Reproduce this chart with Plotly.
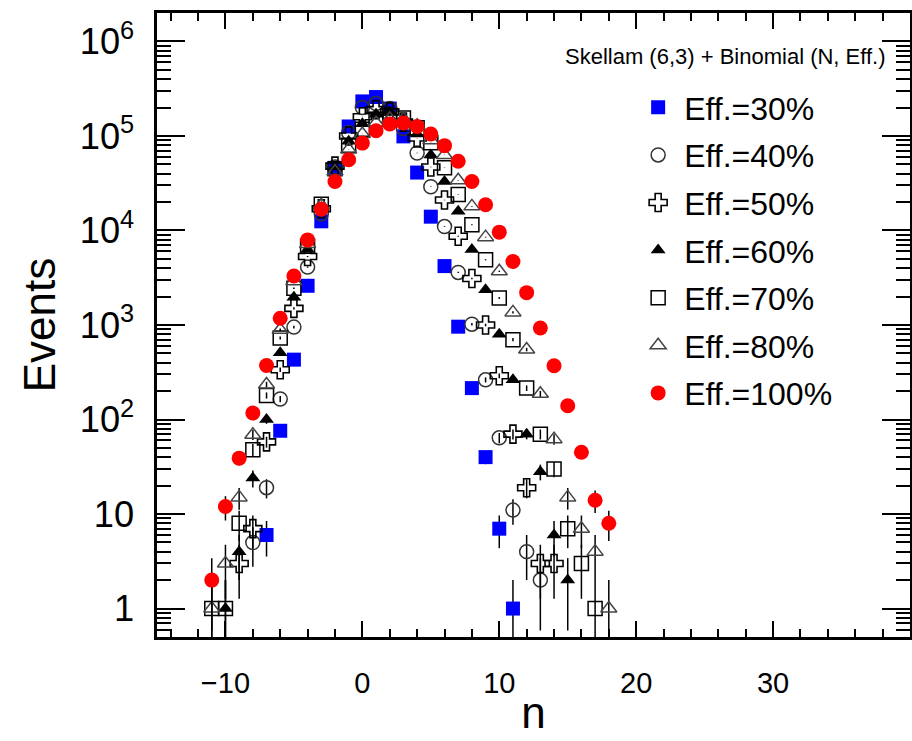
import numpy as np
import plotly.graph_objects as go

n_vals = list(range(-11, 19))

# Events per n (None = no point), n from -11 to 18
eff30 = [None, None, None, None, 6, 76, 430, 2600, 12500, 46000, 126000, 232000, 258000, 195000, 99000,
         41000, 14000, 4200, 960, 215, 40, 7, 1, None, None, None, None, None, None, None]
eff40 = [None, None, None, 5, 19, 165, 950, 4100, 15000, 47000, 108000, 200000, 220000, 195000, 120000,
         66000, 29000, 11000, 3600, 1020, 263, 64, 11, 4, 2, None, None, None, None, None]
eff50 = [None, None, 3, 7, 58, 336, 1500, 5300, 17000, 48000, 100000, 160000, 190000, 180000, 140000,
         95000, 47000, 21000, 8700, 3100, 1000, 290, 70, 19, 3, 3, None, None, None, None]
eff60 = [None, 1, 4, 24, 100, 510, 1970, 6300, 17500, 47000, 88000, 135000, 170000, 180000, 155000,
         105000, 63000, 33000, 16000, 6300, 2360, 800, 263, 70, 28, 6, 2, None, None, None]
eff70 = [1, 1, 8, 48, 180, 730, 2450, 6800, 19000, 45000, 80000, 118000, 150000, 165000, 155000,
         122000, 85000, 46000, 24000, 11500, 4900, 1930, 700, 215, 70, 30, 7, 3, 1, None]
eff80 = [1, 3, 15, 69, 235, 890, 2900, 7200, 18500, 42000, 72000, 105000, 137000, 152000, 150000,
         128000, 90000, 63000, 34000, 18000, 8500, 3700, 1360, 550, 187, 62, 15, 7, 4, 1]
eff100 = [2, 12, 39, 117, 373, 1180, 3300, 7950, 16800, 33000, 56000, 84000, 113500, 134000, 137000,
          126000, 105000, 79000, 54000, 33000, 18700, 9600, 4700, 2200, 930, 370, 140, 45, 14, 8]

series_names = ["Eff.=30%", "Eff.=40%", "Eff.=50%", "Eff.=60%", "Eff.=70%", "Eff.=80%", "Eff.=100%"]
series_data = [eff30, eff40, eff50, eff60, eff70, eff80, eff100]

styles = [
    dict(symbol="square", color="#0000ff", size=14, line=dict(width=0)),
    dict(symbol="circle-open", color="#333333", size=14, line=dict(width=1.5, color="#333333")),
    dict(symbol="cross-open", color="black", size=15, line=dict(width=1.6, color="black")),
    dict(symbol="triangle-up", color="black", size=13, line=dict(width=0)),
    dict(symbol="square-open", color="black", size=14, line=dict(width=1.5, color="black")),
    dict(symbol="triangle-up-open", color="#444444", size=14, line=dict(width=1.5, color="#444444")),
    dict(symbol="circle", color="#ff0000", size=15, line=dict(width=0)),
]

fig = go.Figure()
for i, (name, data, st) in enumerate(zip(series_names, series_data, styles)):
    xs = [n for n, v in zip(n_vals, data) if v is not None]
    ys = np.array([v for v in data if v is not None], dtype=float)
    err = np.sqrt(ys)
    errm = np.where(ys - err <= 0, ys * 0.9, err)
    fig.add_trace(go.Scatter(
        x=xs, y=ys, mode="markers", name=name, legendgroup=f"g{i}",
        marker=dict(symbol=st["symbol"], color=st["color"], size=st["size"], line=st["line"]),
        error_y=dict(type="data", array=err, arrayminus=errm, width=0, thickness=1.5,
                     color="black", visible=True),
    ))

font_fam = "Liberation Sans, Arial, Helvetica, sans-serif"

fig.update_layout(
    width=912, height=741,
    margin=dict(l=157, r=2, t=13, b=104),
    paper_bgcolor="white", plot_bgcolor="white",
    font=dict(family=font_fam, color="black"),
    showlegend=True,
    legend=dict(x=0.631, y=0.8926, xanchor="left", yanchor="top",
                font=dict(size=32, family=font_fam, color="black"),
                tracegroupgap=3, itemwidth=42, bgcolor="rgba(0,0,0,0)", itemsizing="trace"),
    annotations=[dict(text="Skellam (6,3) + Binomial (N, Eff.)", xref="paper", yref="paper",
                      x=0.9708, y=0.9295, xanchor="right", yanchor="middle", showarrow=False,
                      font=dict(size=22, family=font_fam, color="black"))],
)

fig.update_xaxes(
    range=[-15, 40], dtick=10, tick0=0, automargin=False,
    showline=True, linewidth=3, linecolor="black", mirror="ticks",
    ticks="inside", ticklen=16, tickwidth=1.5, tickcolor="black",
    minor=dict(dtick=2, ticks="inside", ticklen=8, tickwidth=1.5, tickcolor="black"),
    showgrid=False, zeroline=False,
    tickfont=dict(size=29, family=font_fam), ticklabelstandoff=18,
    title=dict(text="n", font=dict(size=44, family=font_fam), standoff=0),
)
fig.update_yaxes(
    type="log", range=[np.log10(0.5), np.log10(2e6)], dtick=1, exponentformat="power",
    automargin=False,
    showline=True, linewidth=3, linecolor="black", mirror="ticks",
    ticks="inside", ticklen=28, tickwidth=1.5, tickcolor="black",
    minor=dict(dtick="D1", ticks="inside", ticklen=14, tickwidth=1.5, tickcolor="black"),
    showgrid=False, zeroline=False,
    tickfont=dict(size=29, family=font_fam), ticklabelstandoff=14,
    title=dict(text="Events", font=dict(size=44, family=font_fam), standoff=11),
)

fig.write_html("out.html")
